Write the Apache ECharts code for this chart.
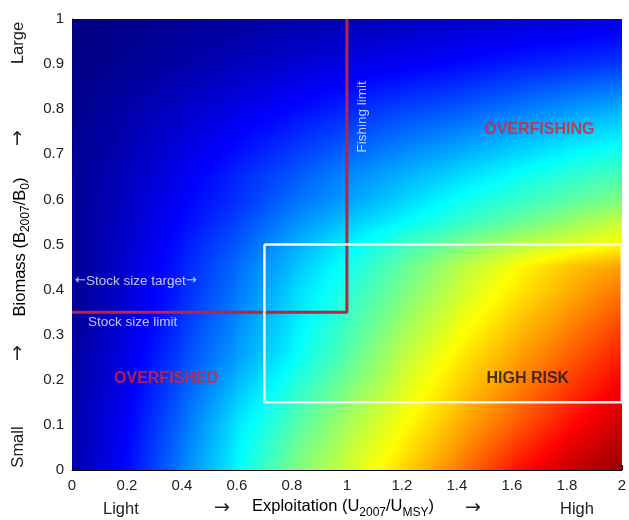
<!DOCTYPE html>
<html><head><meta charset="utf-8">
<script src="https://cdn.jsdelivr.net/npm/echarts@6/dist/echarts.min.js"></script>
<style>html,body{margin:0;padding:0;background:#fff}#c{width:629px;height:520px}</style>
</head><body><div id="c"></div>
<script>
// Exploitation (U2007/UMSY) sample columns
const exploitation = [0, 0.2, 0.4, 0.6, 0.8, 1.0, 1.2, 1.4, 1.6, 1.8, 2.0];
// Biomass (B2007/B0) sample rows
const biomassLevels = [0, 0.1, 0.25, 0.4, 0.45, 0.5, 0.55, 0.6, 0.65, 0.8, 0.9, 1.0];
// risk level (0..1 on the jet scale) read along each biomass row
const riskB000 = [0.04, 0.13, 0.25, 0.37, 0.49, 0.58, 0.66, 0.75, 0.85, 0.93, 0.98];
const riskB010 = [0.04, 0.12, 0.23, 0.35, 0.45, 0.54, 0.62, 0.70, 0.78, 0.86, 0.93];
const riskB025 = [0.03, 0.10, 0.19, 0.28, 0.37, 0.46, 0.56, 0.64, 0.71, 0.78, 0.85];
const riskB040 = [0.02, 0.08, 0.16, 0.24, 0.33, 0.41, 0.49, 0.57, 0.64, 0.70, 0.76];
const riskB045 = [0.02, 0.08, 0.155, 0.23, 0.31, 0.39, 0.47, 0.55, 0.62, 0.68, 0.72];
const riskB050 = [0.02, 0.075, 0.145, 0.21, 0.29, 0.36, 0.43, 0.49, 0.55, 0.59, 0.63];
const riskB055 = [0.02, 0.07, 0.13, 0.19, 0.26, 0.32, 0.37, 0.42, 0.47, 0.52, 0.57];
const riskB060 = [0.02, 0.065, 0.12, 0.17, 0.23, 0.28, 0.33, 0.38, 0.42, 0.46, 0.50];
const riskB065 = [0.02, 0.06, 0.11, 0.16, 0.21, 0.26, 0.30, 0.34, 0.38, 0.42, 0.45];
const riskB080 = [0.01, 0.04, 0.07, 0.10, 0.13, 0.16, 0.19, 0.21, 0.24, 0.27, 0.30];
const riskB090 = [0.005, 0.02, 0.04, 0.06, 0.08, 0.10, 0.115, 0.13, 0.15, 0.165, 0.18];
const riskB100 = [0.0, 0.01, 0.02, 0.03, 0.04, 0.05, 0.06, 0.07, 0.08, 0.09, 0.10];
const riskRows = [riskB000, riskB010, riskB025, riskB040, riskB045, riskB050, riskB055, riskB060, riskB065, riskB080, riskB090, riskB100];

// reference lines
const limitLine = [[0, 0.35], [1, 0.35], [1, 1]];
const highRiskBox = [[0.7, 0.5], [0.7, 0.15], [2, 0.15], [2, 0.5], [0.7, 0.5]];

// annotation texts and their data positions
const annotationTexts = ['OVERFISHING', 'OVERFISHED', 'HIGH RISK', 'Fishing limit', '{a|\u2190}Stock size target{a|\u2192}', 'Stock size limit'];
const annotationU = [1.70, 0.342, 1.658, 1.056, 0.011, 0.058];
const annotationB = [0.755, 0.202, 0.202, 0.783, 0.419, 0.328];

function jet(v) {
  v = Math.max(0, Math.min(1, v));
  const c = x => Math.max(0, Math.min(1, x));
  const r = c(1.5 - Math.abs(4 * v - 3)), g = c(1.5 - Math.abs(4 * v - 2)), b = c(1.5 - Math.abs(4 * v - 1));
  return 'rgb(' + Math.round(r * 255) + ',' + Math.round(g * 255) + ',' + Math.round(b * 255) + ')';
}

const cells = [];
for (let j = 0; j < biomassLevels.length - 1; j++) {
  for (let i = 0; i < exploitation.length - 1; i++) {
    cells.push([exploitation[i], biomassLevels[j], exploitation[i + 1], biomassLevels[j + 1], i, j]);
  }
}

const FONT = 'Liberation Sans, Arial, sans-serif';
const ARROW = 'DejaVu Sans, sans-serif';
const chart = echarts.init(document.getElementById('c'), null, {renderer: 'canvas'});

const annData = annotationTexts.map((t, k) => {
  const base = {value: [annotationU[k], annotationB[k]]};
  if (k <= 2) {
    base.label = {show: true, position: 'inside', formatter: t, fontFamily: FONT, fontWeight: 'bold', fontSize: 16,
      color: k === 2 ? '#161616' : '#e3202b'};
  } else if (k === 3) {
    base.label = {show: true, position: 'inside', rotate: 90, formatter: t, fontFamily: FONT, fontSize: 13.5, color: '#f2f2f2'};
  } else {
    base.label = {show: true, position: 'right', distance: 0, formatter: t, fontFamily: FONT, fontSize: 13.5, color: '#f2f2f2',
      rich: {a: {fontFamily: ARROW, fontSize: 13, color: '#f2f2f2'}}};
  }
  return base;
});

const nameColor = '#222';
const richName = {
  n: {fontSize: 16.5, fontFamily: FONT, color: nameColor, lineHeight: 24},
  s: {fontSize: 12, fontFamily: FONT, color: nameColor, verticalAlign: 'bottom', lineHeight: 14}
};

chart.setOption({
  animation: false,
  grid: {left: 72, right: 2, top: 19, bottom: 50, containLabel: false},
  xAxis: {
    type: 'value', min: 0, max: 2, interval: 0.2,
    axisLine: {show: true, onZero: false, lineStyle: {color: '#000', width: 1}},
    axisTick: {show: true, inside: true, length: 5, lineStyle: {color: '#000'}},
    splitLine: {show: false},
    axisLabel: {fontSize: 15, fontFamily: FONT, color: '#222', margin: 8,
      formatter: v => String(Math.round(v * 10) / 10)}
  },
  yAxis: {
    type: 'value', min: 0, max: 1, interval: 0.1,
    axisLine: {show: true, onZero: false, lineStyle: {color: '#000', width: 1}},
    axisTick: {show: true, inside: true, length: 5, lineStyle: {color: '#000'}},
    splitLine: {show: false},
    axisLabel: {fontSize: 15, fontFamily: FONT, color: '#222', margin: 8,
      formatter: v => String(Math.round(v * 10) / 10)}
  },
  series: [
    {
      type: 'custom', z: 1, clip: true, silent: true,
      encode: {x: [0, 2], y: [1, 3]},
      data: cells,
      renderItem: function (params, api) {
        const i = api.value(4), j = api.value(5);
        const pLB = api.coord([api.value(0), api.value(1)]);
        const pRT = api.coord([api.value(2), api.value(3)]);
        const xL = Math.floor(pLB[0]), xR = Math.ceil(pRT[0]);
        const yB = pLB[1], yT = pRT[1];
        const v00 = riskRows[j][i], v10 = riskRows[j][i + 1], v01 = riskRows[j + 1][i], v11 = riskRows[j + 1][i + 1];
        const children = [];
        for (let y = Math.floor(yT); y < Math.ceil(yB); y++) {
          let t = (yB - (y + 0.5)) / (yB - yT);
          t = Math.max(0, Math.min(1, t));
          const vl = v00 + (v01 - v00) * t, vr = v10 + (v11 - v10) * t;
          const stops = [];
          for (let k = 0; k <= 8; k++) {
            const s = k / 8;
            stops.push({offset: s, color: jet(vl + (vr - vl) * s)});
          }
          children.push({
            type: 'rect', silent: true,
            shape: {x: xL, y: y, width: xR - xL + 1, height: 1},
            style: {fill: {type: 'linear', x: 0, y: 0, x2: 1, y2: 0, colorStops: stops}}
          });
        }
        return {type: 'group', children: children};
      }
    },
    {
      type: 'line', z: 3, data: limitLine, symbol: 'none', silent: true,
      lineStyle: {color: '#bb2340', width: 3}
    },
    {
      type: 'line', z: 3, data: highRiskBox, symbol: 'none', silent: true, clip: false,
      lineStyle: {color: '#f5f5f5', width: 2.5}
    },
    {
      type: 'scatter', z: 5, symbolSize: 0, silent: true, data: annData
    }
  ],
  graphic: [
    {type: 'text', left: 103, top: 501, style: {text: 'Light', font: '16.5px ' + FONT, fill: nameColor}},
    {type: 'text', left: 214, top: 499, style: {text: '\u2192', font: '19px ' + ARROW, fill: nameColor}},
    {type: 'text', left: 252, top: 498, style: {text: '{n|Exploitation (U}{s|2007}{n|/U}{s|MSY}{n|)}', rich: richName}},
    {type: 'text', left: 465, top: 499, style: {text: '\u2192', font: '19px ' + ARROW, fill: nameColor}},
    {type: 'text', left: 560, top: 501, style: {text: 'High', font: '16.5px ' + FONT, fill: nameColor}},
    {type: 'text', x: 18, y: 447, rotation: Math.PI / 2, style: {text: 'Small', font: '16.5px ' + FONT, fill: nameColor, align: 'center', verticalAlign: 'middle'}},
    {type: 'text', x: 18, y: 353, rotation: Math.PI / 2, style: {text: '\u2192', font: '19px ' + ARROW, fill: nameColor, align: 'center', verticalAlign: 'middle'}},
    {type: 'text', x: 20, y: 247, rotation: Math.PI / 2, style: {text: '{n|Biomass (B}{s|2007}{n|/B}{s|0}{n|)}', rich: richName, align: 'center', verticalAlign: 'middle'}},
    {type: 'text', x: 18, y: 138, rotation: Math.PI / 2, style: {text: '\u2192', font: '19px ' + ARROW, fill: nameColor, align: 'center', verticalAlign: 'middle'}},
    {type: 'text', x: 18, y: 43, rotation: Math.PI / 2, style: {text: 'Large', font: '16.5px ' + FONT, fill: nameColor, align: 'center', verticalAlign: 'middle'}}
  ]
});
</script>
</body></html>
